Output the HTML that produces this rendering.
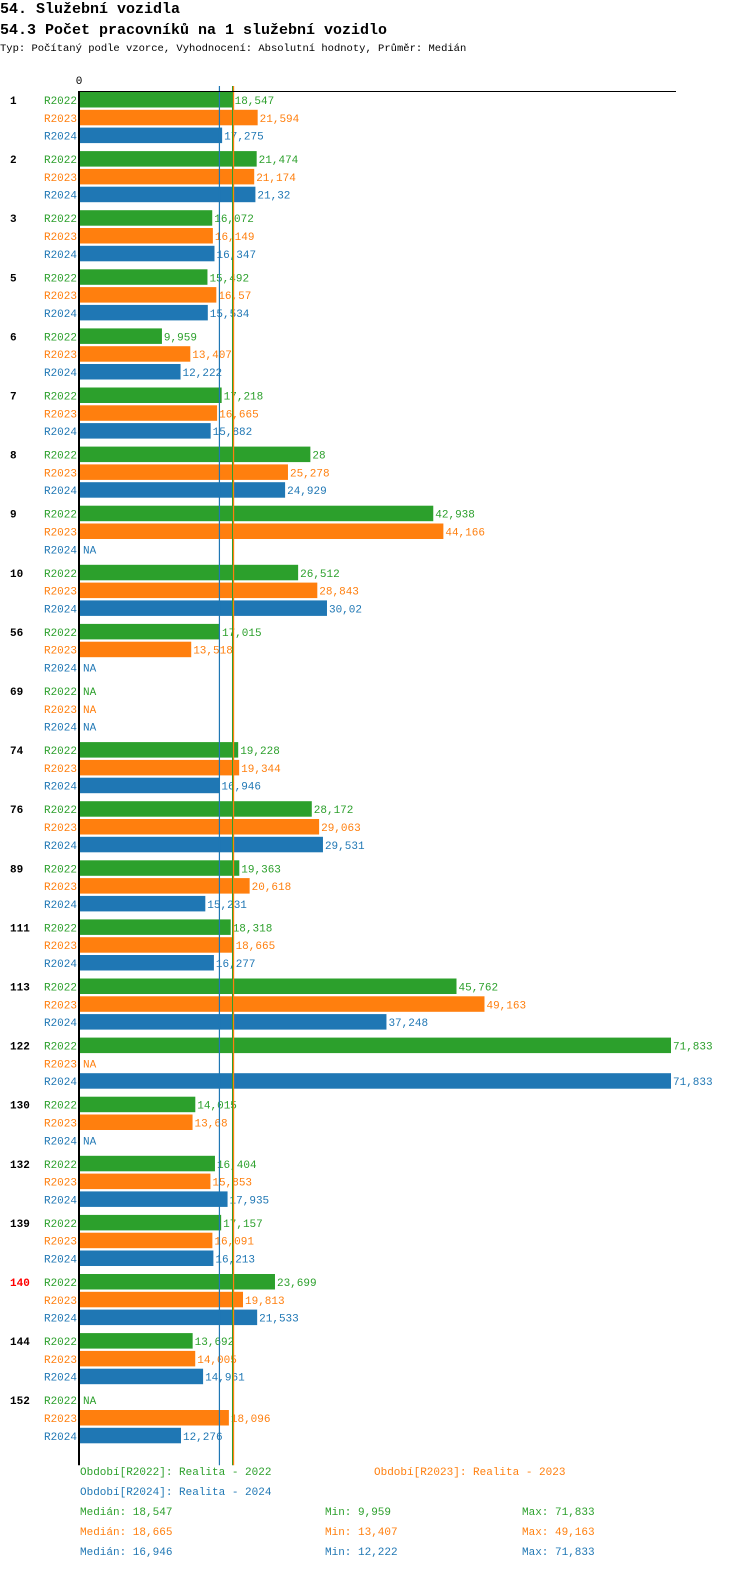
<!DOCTYPE html>
<html><head><meta charset="utf-8"><style>
body{margin:0;background:#fff;width:750px;height:1592px;overflow:hidden;font-family:"Liberation Mono",monospace}
.t{position:absolute;left:0;white-space:nowrap;color:#000}
</style></head><body>
<div class="t" style="top:1px;font-size:15px;font-weight:bold">54. Služební vozidla</div>
<div class="t" style="top:22px;font-size:15px;font-weight:bold">54.3 Počet pracovníků na 1 služební vozidlo</div>
<div class="t" style="top:43px;font-size:10.5px">Typ: Počítaný podle vzorce, Vyhodnocení: Absolutní hodnoty, Průměr: Medián</div>
<svg id="c" width="750" height="1592" style="position:absolute;left:0;top:0" font-family="Liberation Mono, monospace" font-size="11"></svg>
<script>
const categories=["1","2","3","5","6","7","8","9","10","56","69","74","76","89","111","113","122","130","132","139","140","144","152"];
const r2022=[18.547,21.474,16.072,15.492,9.959,17.218,28,42.938,26.512,17.015,null,19.228,28.172,19.363,18.318,45.762,71.833,14.015,16.404,17.157,23.699,13.692,null];
const r2023=[21.594,21.174,16.149,16.57,13.407,16.665,25.278,44.166,28.843,13.518,null,19.344,29.063,20.618,18.665,49.163,null,13.68,15.853,16.091,19.813,14.005,18.096];
const r2024=[17.275,21.32,16.347,15.534,12.222,15.882,24.929,null,30.02,null,null,16.946,29.531,15.231,16.277,37.248,71.833,null,17.935,16.213,21.533,14.961,12.276];
const seriesNames=["R2022","R2023","R2024"];
const medians=[18.547,18.665,16.946];
const mins=[9.959,13.407,12.222];
const maxs=[71.833,49.163,71.833];
const highlighted="140";
const colors=["#2ca02c","#ff7f0e","#1f77b4"];
const svg=document.getElementById('c');const NS="http://www.w3.org/2000/svg";
const x0=80,maxV=71.833,xMax=671;
const xs=v=>x0+v/maxV*(xMax-x0);
const gy=i=>92+i*59.1;
function mk(t,a,txt){const e=document.createElementNS(NS,t);for(const k in a)e.setAttribute(k,a[k]);if(txt!==undefined)e.textContent=txt;svg.appendChild(e);return e;}
const fmt=v=>String(v).replace('.',',');
const series=[r2022,r2023,r2024];
categories.forEach((c,i)=>{
 const y=gy(i);
 const gl=mk('text',{x:10,y:y+12,'font-weight':'bold',fill:c===highlighted?'#ff0000':'#000'},c);
 
 
 series.forEach((s,j)=>{
  const ry=y+j*17.8;
  const sl=mk('text',{x:77,y:ry+12,'text-anchor':'end',fill:colors[j]},seriesNames[j]);
  
  
  const v=s[i];
  if(v==null){const n=mk('text',{x:83,y:ry+12,fill:colors[j]},'NA');
   
   return;}
  const b=mk('rect',{x:x0,y:ry,width:xs(v)-x0,height:15.5,fill:colors[j]});
  
  
  const l=mk('text',{x:xs(v)+2,y:ry+12,fill:colors[j]},fmt(v));
  
  
 });
});
const yEnd=gy(categories.length-1)+73;
medians.forEach((m,j)=>{const l=mk('line',{x1:xs(m),x2:xs(m),y1:86,y2:yEnd,stroke:colors[j],'stroke-width':1.2});
 
 });
const ax=mk('line',{x1:x0-1,x2:x0-1,y1:91,y2:yEnd,stroke:'#000','stroke-width':2});


const tx=mk('line',{x1:x0-2,x2:676,y1:91.5,y2:91.5,stroke:'#000','stroke-width':1});


const z=mk('text',{x:x0-1,y:84,'text-anchor':'middle',fill:'#000'},'0');


const legPos=[[80,1475],[374,1475],[80,1495]];
seriesNames.forEach((n,j)=>{const l=mk('text',{x:legPos[j][0],y:legPos[j][1],fill:colors[j]},'Období['+n+']: Realita - '+n.slice(1));
 
 
 const yy=1515+j*20;
 const a=mk('text',{x:80,y:yy,fill:colors[j]},'Medián: '+fmt(medians[j]));
 
 
 const b=mk('text',{x:325,y:yy,fill:colors[j]},'Min: '+fmt(mins[j]));
 
 
 const c=mk('text',{x:522,y:yy,fill:colors[j]},'Max: '+fmt(maxs[j]));
 
 
});
</script>
</body></html>
